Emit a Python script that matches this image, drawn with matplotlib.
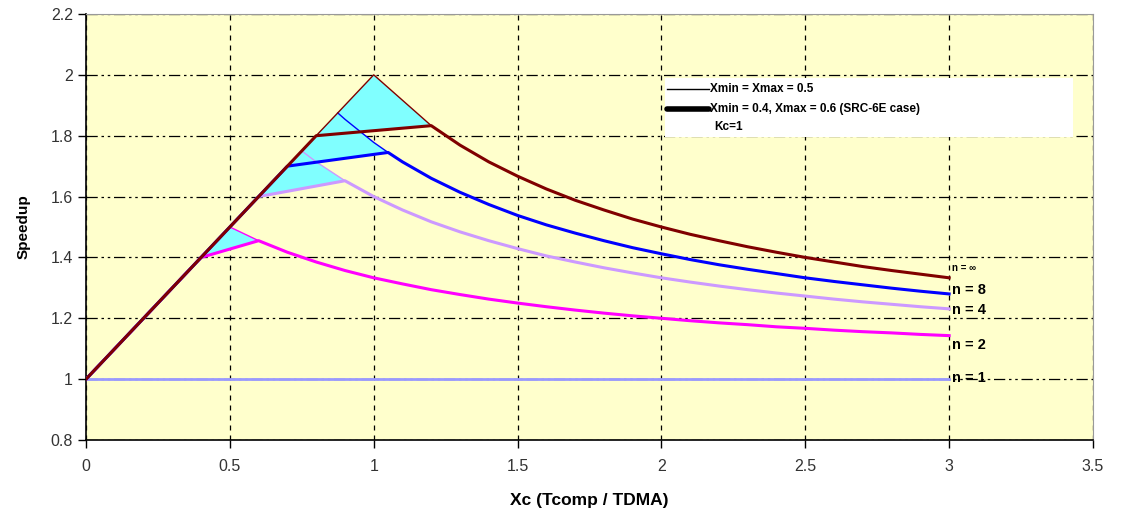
import matplotlib
matplotlib.use("Agg")
import matplotlib.pyplot as plt
from matplotlib.patches import Polygon, Rectangle
from matplotlib.ticker import FuncFormatter

plt.rcParams['font.family'] = ['Liberation Sans', 'DejaVu Sans']

# ---- data ----
x_tail = [1.2, 1.3, 1.4, 1.5, 1.6, 1.7, 1.8, 1.9, 2.0, 2.1,
          2.2, 2.3, 2.4, 2.5, 2.6, 2.7, 2.8, 2.9, 3.0]

# thick curves: Xmin = 0.4, Xmax = 0.6
inf_thick_x = [0.0, 0.8] + x_tail
inf_thick_y = [1.0, 1.8, 1.833, 1.769, 1.714, 1.667, 1.625, 1.588, 1.556, 1.526, 1.5, 1.476,
               1.455, 1.435, 1.417, 1.4, 1.385, 1.370, 1.357, 1.345, 1.333]

n8_thick_x = [0.0, 0.7, 1.05, 1.1] + x_tail
n8_thick_y = [1.0, 1.7, 1.745, 1.714, 1.660, 1.614, 1.574, 1.538, 1.507, 1.480, 1.455, 1.432,
              1.412, 1.393, 1.376, 1.361, 1.347, 1.333, 1.321, 1.310, 1.299, 1.289, 1.28]

n4_thick_x = [0.0, 0.6, 0.9, 1.0, 1.1] + x_tail
n4_thick_y = [1.0, 1.6, 1.652, 1.6, 1.556, 1.517, 1.484, 1.455, 1.429, 1.405, 1.385, 1.366,
              1.349, 1.333, 1.319, 1.306, 1.294, 1.283, 1.273, 1.263, 1.254, 1.246, 1.238, 1.231]

n2_thick_x = [0.0, 0.4, 0.6, 0.7, 0.8, 0.9, 1.0, 1.1] + x_tail
n2_thick_y = [1.0, 1.4, 1.455, 1.417, 1.385, 1.357, 1.333, 1.313, 1.294, 1.278, 1.263, 1.25,
              1.238, 1.227, 1.217, 1.208, 1.2, 1.192, 1.185, 1.179, 1.172, 1.167, 1.161,
              1.156, 1.152, 1.147, 1.143]

n1_x = [0.0, 3.0]
n1_y = [1.0, 1.0]

# thin curves: Xmin = Xmax = 0.5
inf_thin_x = [0.8, 1.0, 1.2]
inf_thin_y = [1.8, 2.0, 1.833]
n8_thin_x = [0.875, 0.9, 1.0, 1.05]
n8_thin_y = [1.875, 1.854, 1.778, 1.745]
n4_thin_x = [0.75, 0.8, 0.9]
n4_thin_y = [1.75, 1.714, 1.652]
n2_thin_x = [0.5, 0.6]
n2_thin_y = [1.5, 1.455]

# start of the shaded wedge on each thick curve
inf_start = (0.8, 1.8)
n8_start = (0.7, 1.7)
n4_start = (0.6, 1.6)
n2_start = (0.4, 1.4)

x_ticks = [0, 0.5, 1, 1.5, 2, 2.5, 3, 3.5]
y_ticks = [0.8, 1, 1.2, 1.4, 1.6, 1.8, 2, 2.2]

labels = ["n = \u221e", "n = 8", "n = 4", "n = 2", "n = 1"]
label_y = [1.365, 1.293, 1.226, 1.112, 1.004]

# ---- styling ----
C_INF = '#800000'
C_8 = '#0000FF'
C_4 = '#CC99FF'
C_2 = '#FF00FF'
C_1 = '#9999FF'
C_FILL = '#80FFFF'

fig = plt.figure(figsize=(11.22, 5.18), dpi=100)
ax = fig.add_axes([86/1122, 1-440/518, (1093-86)/1122, (440-14)/518])
ax.set_facecolor('#FFFFCC')

ax.set_xlim(0, 3.5)
ax.set_ylim(0.8, 2.2)
ax.set_xticks(x_ticks)
ax.set_yticks(y_ticks)
fmt = FuncFormatter(lambda v, p: ('%g' % v))
ax.xaxis.set_major_formatter(fmt)
ax.yaxis.set_major_formatter(fmt)
ax.tick_params(labelsize=11.5, length=6, width=1, direction='out', color='black')
ax.tick_params(axis='x', pad=8)
for lab in ax.get_xticklabels() + ax.get_yticklabels():
    lab.set_color('#333333')

ax.set_axisbelow(True)
ax.yaxis.grid(True, color='black', lw=0.9, linestyle=(0, (9, 3, 2, 3, 2, 3)))
ax.xaxis.grid(True, color='black', lw=0.9, linestyle=(0, (4, 4)))
for s in ['left', 'bottom']:
    ax.spines[s].set_color('black')
    ax.spines[s].set_linewidth(1.2)
for s in ['top', 'right']:
    ax.spines[s].set_color('#999999')
    ax.spines[s].set_linewidth(0.8)

# shaded wedges
for start, tx, ty in [(inf_start, inf_thin_x, inf_thin_y),
                      (n8_start, n8_thin_x, n8_thin_y),
                      (n4_start, n4_thin_x, n4_thin_y),
                      (n2_start, n2_thin_x, n2_thin_y)]:
    pts = [start] + list(zip(tx, ty))
    ax.add_patch(Polygon(pts, closed=True, facecolor=C_FILL, edgecolor='none', zorder=2))

# thin lines
ax.plot(n2_thin_x, n2_thin_y, color=C_2, lw=1, zorder=3)
ax.plot(n4_thin_x, n4_thin_y, color=C_4, lw=1, zorder=3)
ax.plot(n8_thin_x, n8_thin_y, color=C_8, lw=1, zorder=3)
ax.plot(inf_thin_x, inf_thin_y, color=C_INF, lw=1, zorder=3)

# thick lines
ax.plot(n1_x, n1_y, color=C_1, lw=2, zorder=4)
ax.plot(n2_thick_x, n2_thick_y, color=C_2, lw=2.2, zorder=4)
ax.plot(n4_thick_x, n4_thick_y, color=C_4, lw=2.2, zorder=4)
ax.plot(n8_thick_x, n8_thick_y, color=C_8, lw=2.2, zorder=4)
ax.plot(inf_thick_x, inf_thick_y, color=C_INF, lw=2.2, zorder=5)

# right-side labels
for i, (t, yv) in enumerate(zip(labels, label_y)):
    ax.text(3.01, yv, t, fontsize=7 if i == 0 else 10.5, fontweight='bold',
            ha='left', va='center', zorder=6)

# legend box
ax.add_patch(Rectangle((2.013, 1.796), 1.417, 0.194, facecolor='white',
                       edgecolor='none', zorder=6))
ax.plot([2.02, 2.165], [1.952, 1.952], color='black', lw=1, zorder=7)
ax.plot([2.02, 2.165], [1.889, 1.889], color='black', lw=4, solid_capstyle='round', zorder=7)
ax.text(2.17, 1.952, "Xmin = Xmax = 0.5", fontsize=8.5, fontweight='bold',
        ha='left', va='center', zorder=7)
ax.text(2.17, 1.889, "Xmin = 0.4, Xmax = 0.6 (SRC-6E case)", fontsize=8.5,
        fontweight='bold', ha='left', va='center', zorder=7)
ax.text(2.185, 1.827, "Kc=1", fontsize=8.5, fontweight='bold',
        ha='left', va='center', zorder=7)

ax.set_xlabel("Xc (Tcomp / TDMA)", fontsize=12.5, fontweight='bold', labelpad=13)
ax.set_ylabel("Speedup", fontsize=11, fontweight='bold', labelpad=14)

fig.savefig("out.png", dpi=100, facecolor='white')
